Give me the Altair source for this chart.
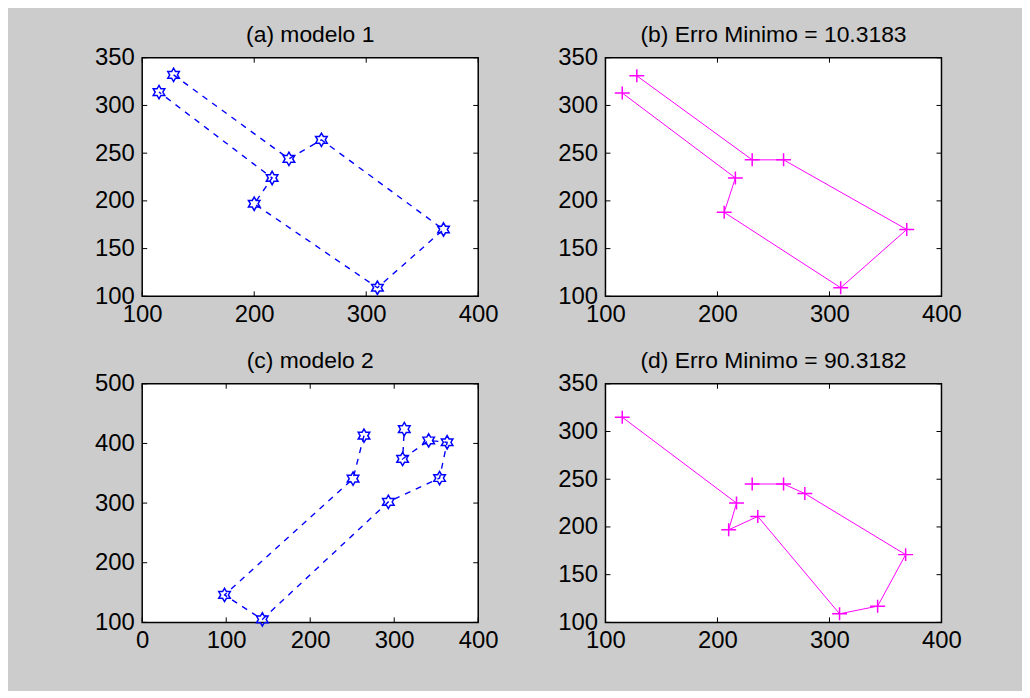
import altair as alt
import pandas as pd

# ---- data ----
a_x = [128, 231, 260, 369, 310, 200, 216, 115]
a_y = [332, 244, 264, 170, 109, 197, 224, 314]

b_x = [128, 231, 259, 369, 310, 206, 216, 115]
b_y = [331, 243, 243, 170, 109, 188, 224, 313]

c_x = [264, 251, 98, 143, 293, 354, 363, 341, 310, 312]
c_y = [413, 341, 146, 105, 302, 342, 402, 405, 374, 424]

d_x = [115, 217, 210, 236, 309, 343, 368, 278, 259, 231]
d_y = [315, 225, 197, 211, 109, 117, 171, 235, 245, 245]

titles = ["(a) modelo 1", "(b) Erro Minimo = 10.3183",
          "(c) modelo 2", "(d) Erro Minimo = 90.3182"]

x_dom_1 = [100, 400]
y_dom_1 = [100, 350]
x_dom_2 = [0, 400]
y_dom_2 = [100, 500]
x_ticks_1 = [100, 200, 300, 400]
y_ticks_1 = [100, 150, 200, 250, 300, 350]
x_ticks_2 = [0, 100, 200, 300, 400]
y_ticks_2 = [100, 200, 300, 400, 500]

W, H = 338, 240
TICK = 5
FONT = "Liberation Sans"

HEXAGRAM = ("M0,-1L0.289,-0.5L0.866,-0.5L0.577,0L0.866,0.5L0.289,0.5L0,1"
            "L-0.289,0.5L-0.866,0.5L-0.577,0L-0.866,-0.5L-0.289,-0.5Z")
PLUS = "M-1,0L1,0M0,-0.87L0,0.87"


def panel(xs, ys, xdom, ydom, xticks, yticks, title, color, dashed, shape, size):
    df = pd.DataFrame({"x": xs, "y": ys, "i": list(range(len(xs)))})
    xsc = alt.Scale(domain=xdom, nice=False, zero=False)
    ysc = alt.Scale(domain=ydom, nice=False, zero=False)
    xax = alt.Axis(values=xticks, title=None, ticks=False, domain=False,
                   grid=False, labelPadding=6, labelFlush=False)
    yax = alt.Axis(values=yticks, title=None, ticks=False, domain=False,
                   grid=False, labelPadding=8, labelFlush=False)
    X = alt.X("x:Q", scale=xsc, axis=xax)
    Y = alt.Y("y:Q", scale=ysc, axis=yax)

    line_kw = dict(color=color, strokeWidth=1, clip=True)
    if dashed:
        line_kw["strokeDash"] = [6, 6]
        line_kw["strokeWidth"] = 1.4
    line = alt.Chart(df).mark_line(**line_kw).encode(x=X, y=Y, order="i:Q")
    pts = alt.Chart(df).mark_point(shape=shape, size=size, filled=False,
                                   color=color, strokeWidth=1.5, opacity=1).encode(x=X, y=Y)
    yt = pd.DataFrame({"y": yticks})
    xt = pd.DataFrame({"x": xticks})
    tl = alt.Chart(yt).mark_rule(color="black", strokeWidth=1).encode(
        y=Y, x=alt.value(0), x2=alt.value(TICK))
    tr = alt.Chart(yt).mark_rule(color="black", strokeWidth=1).encode(
        y=Y, x=alt.value(W - TICK), x2=alt.value(W))
    tb = alt.Chart(xt).mark_rule(color="black", strokeWidth=1).encode(
        x=X, y=alt.value(H - TICK), y2=alt.value(H))
    tt = alt.Chart(xt).mark_rule(color="black", strokeWidth=1).encode(
        x=X, y=alt.value(0), y2=alt.value(TICK))
    return alt.layer(line, pts, tl, tr, tb, tt).properties(
        width=W, height=H,
        title=alt.TitleParams(title, fontSize=23, font=FONT, fontWeight="normal",
                              color="black", anchor="middle", frame="group",
                              baseline="alphabetic", offset=-19),
    )


pa = panel(a_x, a_y, x_dom_1, y_dom_1, x_ticks_1, y_ticks_1, titles[0],
           "#0000ff", True, HEXAGRAM, 180)
pb = panel(b_x, b_y, x_dom_1, y_dom_1, x_ticks_1, y_ticks_1, titles[1],
           "#ff00ff", False, PLUS, 225)
pc = panel(c_x, c_y, x_dom_2, y_dom_2, x_ticks_2, y_ticks_2, titles[2],
           "#0000ff", True, HEXAGRAM, 180)
pd_ = panel(d_x, d_y, x_dom_1, y_dom_1, x_ticks_1, y_ticks_1, titles[3],
            "#ff00ff", False, PLUS, 225)

chart = alt.vconcat(
    alt.hconcat(pa, pb, spacing=58),
    alt.hconcat(pc, pd_, spacing=58),
    spacing=22,
).properties(
    padding={"left": 86, "top": 13, "right": 60, "bottom": 36},
    background="#cccccc",
).configure_view(
    stroke="black", strokeWidth=1.5, fill="white"
).configure_axis(
    labelFont=FONT, labelFontSize=24, labelColor="black"
)

chart.save("out.html", embed_options={"renderer": "svg", "actions": False})
